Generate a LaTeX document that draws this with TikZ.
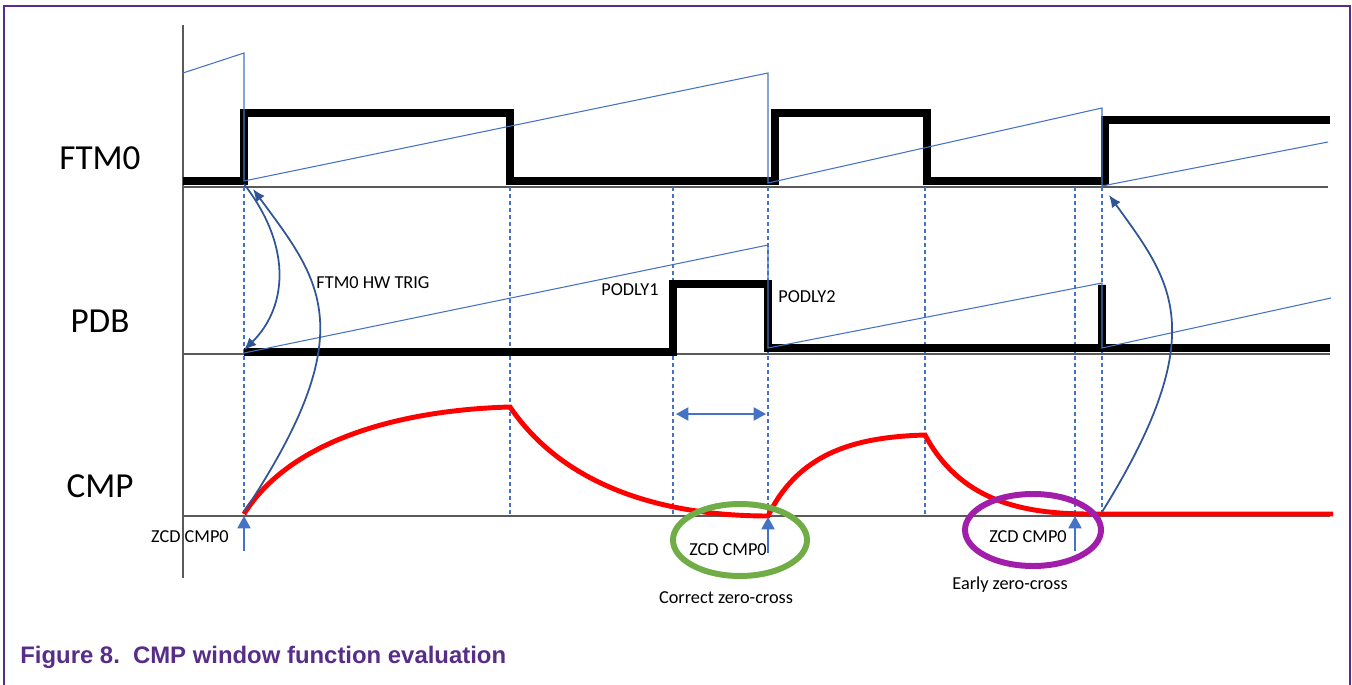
\documentclass[tikz,border=0pt]{standalone}
\usepackage{fontspec}
\setmainfont{Carlito}
\newfontfamily\capfont{Liberation Sans}
\usepackage{tikz}
\usetikzlibrary{arrows.meta,positioning,shapes}

\definecolor{nxppurple}{RGB}{87,45,135}
\definecolor{sawblue}{RGB}{68,114,196}
\definecolor{darkarrow}{RGB}{47,85,151}
\definecolor{okgreen}{RGB}{112,173,71}
\definecolor{badpurple}{RGB}{160,30,170}
\definecolor{axisgray}{RGB}{90,90,90}

\begin{document}
\begin{tikzpicture}[
  x=0.02cm, y=-0.02cm,
  signame/.style={font=\fontsize{20}{24}\selectfont, inner sep=0pt, anchor=base},
  tag/.style={font=\fontsize{10.4}{12}\selectfont, inner sep=0pt, anchor=base},
  axis/.style={draw=axisgray, line width=0.8pt},
  pulse/.style={draw=black, line width=4.7pt},
  saw/.style={draw=sawblue, line width=0.6pt},
  marker/.style={draw=sawblue, line width=0.6pt, dash pattern=on 2.3pt off 1.7pt},
  wave/.style={draw=red, line width=2.8pt},
  trig/.style={draw=darkarrow, line width=1pt, -{Latex[length=7pt,width=6pt]}},
  zcd/.style={draw=sawblue, line width=0.8pt, -{Triangle[length=7pt,width=7.5pt]}},
  window/.style={draw=sawblue, line width=0.8pt, {Triangle[length=7pt,width=7.5pt]}-{Triangle[length=7pt,width=7.5pt]}},
  ring/.style={line width=3.4pt}
]
\useasboundingbox (0,0) rectangle (1352,685);

% Frame and caption
\draw [nxppurple, line width=1.4pt] (4,685) -- (4,6) -- (1350,6) -- (1350,685);
\node (caption) [anchor=base west, inner sep=0pt, text=nxppurple, font=\capfont\bfseries\fontsize{13.6}{16}\selectfont] at (20,663) {Figure 8.\hspace{0.55em}CMP window function evaluation};

% Signal names
\node (ftm) [signame] at (100,170) {FTM0};
\node (pdb) [signame] at (100,333) {PDB};
\node (cmp) [signame] at (100,498) {CMP};

% Axes
\draw [axis] (183,25) -- (183,578);
\draw [axis] (183,187) -- (1328,187);
\draw [axis] (183,354) -- (1330,354);
\draw [axis] (183,516) -- (1330,516);

% Event markers
\foreach \xe in {244,510,673,768,925,1075,1102}
  \draw [marker] (\xe,187) -- (\xe,516);

% FTM0 output
\draw [pulse] (183,181) -- (244,181) -- (244,113) -- (510,113) -- (510,181) -- (775,181) -- (775,113)
  -- (927,113) -- (927,181) -- (1105,181) -- (1105,120) -- (1330,120);
\draw [saw] (183,73) -- (244,53) -- (244,181) -- (768,73) -- (768,183) -- (1102,108) -- (1102,186) -- (1328,142);

% PDB output
\draw [pulse] (244,352) -- (673,352) -- (673,284) -- (768,284) -- (768,348) -- (1102,348) -- (1102,285)
  -- (1102,348) -- (1330,348);
\draw [saw] (244,353) -- (768,245) -- (768,348) -- (1102,283) -- (1102,348) -- (1331,298);
\node (podly1) [tag] at (630,296) {PODLY1};
\node (podly2) [tag] at (807,303) {PODLY2};

% CMP input
\draw [wave] (244,514) .. controls (290,440) and (400,410) .. (510,407)
  .. controls (570,495) and (680,516) .. (768,516)
  .. controls (800,450) and (860,437) .. (925,435)
  .. controls (960,500) and (1020,514) .. (1090,514) -- (1333,514);

% Window
\coordinate (winL) at (676,414);
\coordinate (winR) at (766,414);
\draw [window] (winL) -- (winR);

% Triggers
\coordinate (ftmRise1) at (244,184);
\coordinate (pdbStart) at (244,350);
\coordinate (cmpStart) at (244,512);
\coordinate (ftmRise0) at (253,189);
\coordinate (cmpFlat) at (1102,512);
\coordinate (ftmRise3) at (1109,195);
\draw [trig] (ftmRise1) .. controls (295,250) and (285,310) .. (pdbStart);
\draw [trig] (cmpStart) .. controls (365,330) and (320,280) .. (ftmRise0);
\draw [trig] (cmpFlat) .. controls (1215,330) and (1170,280) .. (ftmRise3);
\node (hwtrig) [tag] at (373,289) {FTM0 HW TRIG};

% Zero-cross detections
\node (zcd1) [tag] at (190,542) {ZCD CMP0};
\node (zcd2) [tag] at (728,556) {ZCD CMP0};
\node (zcd3) [tag] at (1028,542) {ZCD CMP0};
\coordinate (zcd1top) at (244,516);
\coordinate (zcd1bot) at (244,551);
\coordinate (zcd2top) at (768,517);
\coordinate (zcd2bot) at (768,553);
\coordinate (zcd3top) at (1075,516);
\coordinate (zcd3bot) at (1075,551);
\draw [zcd] (zcd1bot) -- (zcd1top);
\draw [zcd] (zcd2bot) -- (zcd2top);
\draw [zcd] (zcd3bot) -- (zcd3top);

\draw [ring, okgreen] (740,540) ellipse [x radius=67, y radius=36];
\draw [ring, badpurple] (1033,530) ellipse [x radius=68, y radius=36];
\node (correct) [tag] at (726,603) {Correct zero-cross};
\node (early) [tag] at (1010,589) {Early zero-cross};

\end{tikzpicture}
\end{document}
